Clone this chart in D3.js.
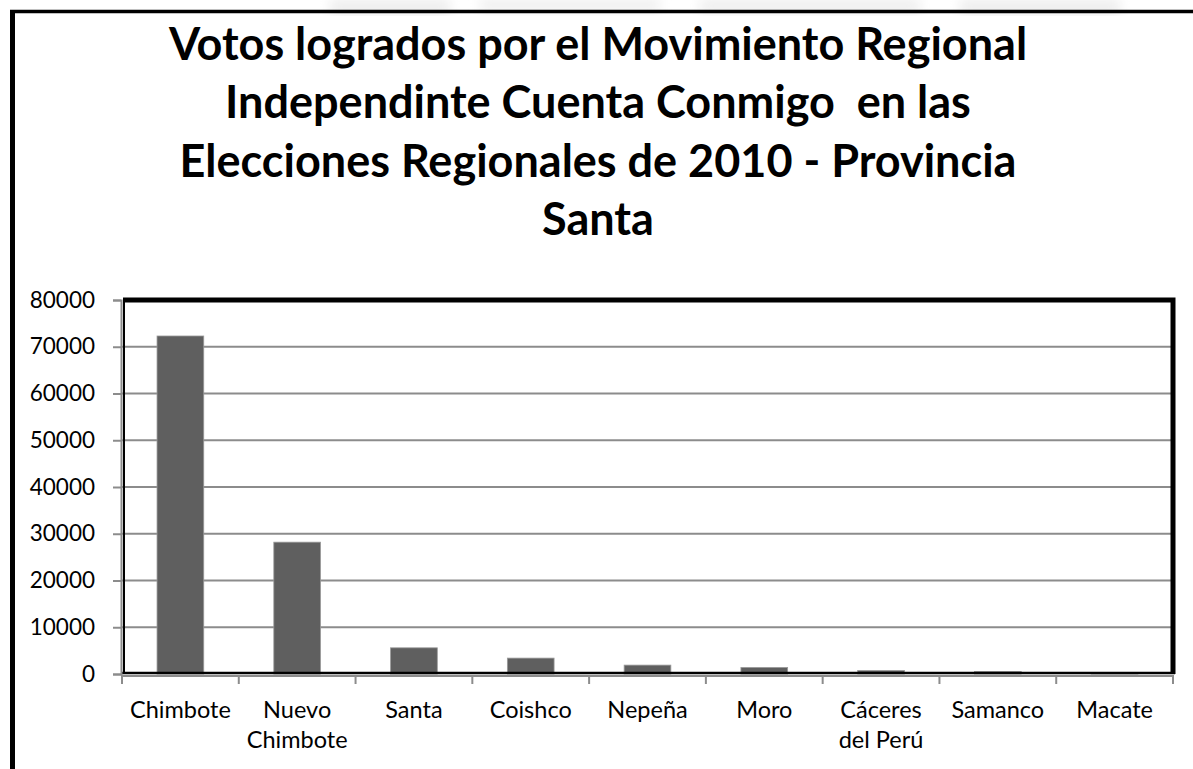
<!DOCTYPE html>
<html>
<head>
<meta charset="utf-8">
<script src="https://cdn.jsdelivr.net/npm/d3@7"></script>
<style>
  body { margin: 0; background: #fff; }
  svg { display: block; font-family: Lato, "Open Sans", sans-serif; }
</style>
</head>
<body>
<div id="main"></div>
<script>
var titleLines = [
    "Votos logrados por el Movimiento Regional",
    "Independinte Cuenta Conmigo  en las",
    "Elecciones Regionales de 2010 - Provincia",
    "Santa"
];
var districts = ["Chimbote", "Nuevo Chimbote", "Santa", "Coishco", "Nepeña", "Moro",
    "Cáceres del Perú", "Samanco", "Macate"];
var labelLines = [["Chimbote"], ["Nuevo", "Chimbote"], ["Santa"], ["Coishco"], ["Nepeña"], ["Moro"],
    ["Cáceres", "del Perú"], ["Samanco"], ["Macate"]];
var votes = [72300, 28200, 5600, 3400, 1900, 1400, 750, 550, 300];
var yTicks = [0, 10000, 20000, 30000, 40000, 50000, 60000, 70000, 80000];

var ctx = {
    w: 1193,
    h: 769,
    plot: { left: 122, right: 1173, top: 300, bottom: 674 }
};

var svg = d3.select("#main").append("svg")
    .attr("width", ctx.w)
    .attr("height", ctx.h);

svg.append("rect").attr("width", ctx.w).attr("height", ctx.h).attr("fill", "#fff");

// faint watermark at the top edge
var defs = svg.append("defs");
defs.append("filter").attr("id", "blur")
    .append("feGaussianBlur").attr("stdDeviation", 6);
svg.append("g").attr("filter", "url(#blur)").attr("fill", "#ececec")
    .selectAll("rect")
    .data([[330, 0, 120, 14], [480, 0, 180, 10], [700, 0, 220, 12], [960, 0, 160, 14]])
    .enter().append("rect")
    .attr("x", d => d[0]).attr("y", d => d[1])
    .attr("width", d => d[2]).attr("height", d => d[3]);

// outer frame (left and top only)
svg.append("line").attr("x1", 12.5).attr("x2", 12.5).attr("y1", 10).attr("y2", ctx.h)
    .attr("stroke", "#000").attr("stroke-width", 5);
svg.append("line").attr("x1", 10).attr("x2", ctx.w).attr("y1", 11.5).attr("y2", 11.5)
    .attr("stroke", "#000").attr("stroke-width", 3.5);

// title
svg.append("g").selectAll("text")
    .data(titleLines)
    .enter().append("text")
    .attr("x", 598)
    .attr("y", (d, i) => 60 + i * 58.3)
    .attr("text-anchor", "middle")
    .attr("font-weight", "bold")
    .attr("font-size", 45)
    .attr("fill", "#000")
    .style("white-space", "pre")
    .text(d => d);

var x = d3.scaleBand()
    .domain(districts)
    .range([ctx.plot.left, ctx.plot.right])
    .paddingInner(0.6)
    .paddingOuter(0.3);

var y = d3.scaleLinear()
    .domain([0, 80000])
    .range([ctx.plot.bottom, ctx.plot.top]);

// gridlines
svg.append("g").selectAll("line")
    .data(yTicks.filter(v => v > 0 && v < 80000))
    .enter().append("line")
    .attr("x1", ctx.plot.left).attr("x2", ctx.plot.right)
    .attr("y1", d => y(d)).attr("y2", d => y(d))
    .attr("stroke", "#8c8c8c").attr("stroke-width", 2);

// bars
svg.append("g").selectAll("rect")
    .data(votes)
    .enter().append("rect")
    .attr("x", (d, i) => x(districts[i]))
    .attr("y", d => y(d))
    .attr("width", x.bandwidth())
    .attr("height", d => y(0) - y(d))
    .attr("fill", "#5f5f5f")
    .attr("stroke", "#9a9a9a")
    .attr("stroke-width", 0.8);

// plot frame: thick top/right, thin left/bottom
var frame = svg.append("g").attr("fill", "none").attr("stroke", "#000");
frame.append("path")
    .attr("d", "M" + (ctx.plot.left + 1) + "," + ctx.plot.top + "H" + ctx.plot.right + "V" + ctx.plot.bottom)
    .attr("stroke-width", 5);
frame.append("line")
    .attr("x1", ctx.plot.left + 2).attr("x2", ctx.plot.left + 2)
    .attr("y1", ctx.plot.top).attr("y2", ctx.plot.bottom)
    .attr("stroke-width", 2);
frame.append("line")
    .attr("x1", ctx.plot.left).attr("x2", ctx.plot.right + 2)
    .attr("y1", ctx.plot.bottom - 1).attr("y2", ctx.plot.bottom - 1)
    .attr("stroke-width", 2.5);

// y axis
var yAxis = svg.append("g")
    .attr("transform", "translate(" + (ctx.plot.left - 1) + ",0)")
    .call(d3.axisLeft(y).tickValues(yTicks).tickSize(8).tickPadding(18).tickFormat(d3.format("d")));
yAxis.select(".domain").attr("stroke", "#8c8c8c").attr("stroke-width", 2);
yAxis.selectAll(".tick line").attr("stroke", "#8c8c8c").attr("stroke-width", 2);
yAxis.selectAll(".tick text")
    .attr("font-family", "Lato, sans-serif")
    .attr("font-size", 22.5)
    .attr("fill", "#000");

// x axis: ticks at band boundaries
var boundaries = districts.map(d => x(d) - x.step() * x.paddingInner() / 2);
boundaries[0] = ctx.plot.left;
boundaries.push(ctx.plot.right);
svg.append("line")
    .attr("x1", ctx.plot.left - 1).attr("x2", ctx.plot.right + 1)
    .attr("y1", ctx.plot.bottom + 2).attr("y2", ctx.plot.bottom + 2)
    .attr("stroke", "#8c8c8c").attr("stroke-width", 2);
svg.append("g").selectAll("line")
    .data(boundaries)
    .enter().append("line")
    .attr("x1", d => d).attr("x2", d => d)
    .attr("y1", ctx.plot.bottom + 2).attr("y2", ctx.plot.bottom + 10)
    .attr("stroke", "#8c8c8c").attr("stroke-width", 2);

var xLabels = svg.append("g")
    .attr("font-size", 23.5)
    .attr("text-anchor", "middle")
    .attr("fill", "#000");
labelLines.forEach(function (lines, i) {
    var t = xLabels.append("text")
        .attr("x", x(districts[i]) + x.bandwidth() / 2)
        .attr("y", 718);
    lines.forEach(function (s, j) {
        t.append("tspan")
            .attr("x", x(districts[i]) + x.bandwidth() / 2)
            .attr("dy", j === 0 ? 0 : 30)
            .text(s);
    });
});
</script>
</body>
</html>
